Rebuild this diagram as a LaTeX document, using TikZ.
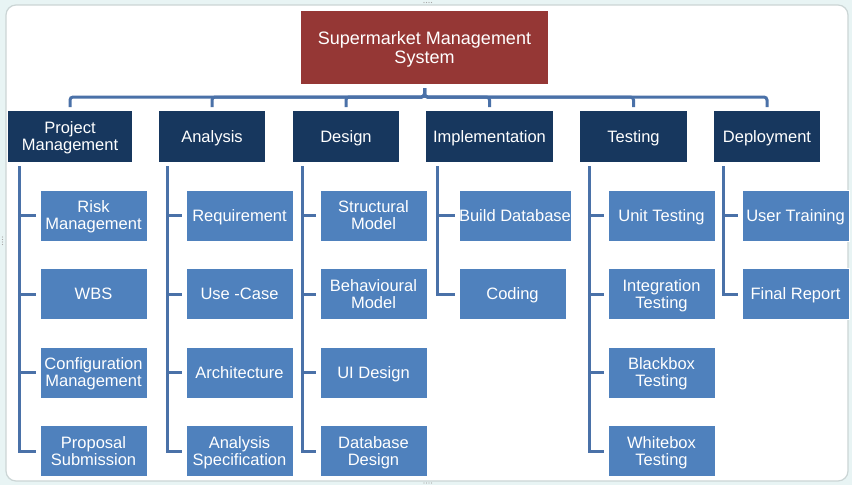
\documentclass[tikz,border=0pt]{standalone}
\usepackage{fontspec}
\setmainfont{Liberation Sans}
\usetikzlibrary{calc}

\definecolor{rootcol}{HTML}{953735}
\definecolor{phasecol}{HTML}{17375E}
\definecolor{taskcol}{HTML}{4F81BD}
\definecolor{linkcol}{HTML}{4A71A8}
\definecolor{framecol}{HTML}{CBD5D5}
\definecolor{outercol}{HTML}{E8F4F4}

\tikzset{
  root/.style={fill=rootcol, text=white, minimum width=247pt, minimum height=73pt,
    inner sep=0pt, outer sep=4pt, text depth=0pt, align=center,
    font=\fontsize{18}{18.5}\selectfont},
  phase/.style={fill=phasecol, text=white, minimum height=51pt,
    inner sep=0pt, outer sep=4pt, text depth=0pt, align=center,
    font=\fontsize{16.5}{17}\selectfont},
  task/.style={fill=taskcol, draw=white, line width=0.6pt, text=white, minimum width=107pt,
    minimum height=51pt, inner sep=0pt, outer sep=4pt, anchor=west,
    text depth=0pt, align=center, font=\fontsize{16.5}{17}\selectfont},
  link/.style={draw=linkcol, line width=3pt},
  handle/.style={fill=gray!70},
}

\begin{document}
\begin{tikzpicture}[x=1pt,y=-1pt]
\fill[outercol] (0,0) rectangle (852,485);
\filldraw[fill=white, draw=framecol, line width=1.2pt, rounded corners=10pt] (6,5) rectangle (848,481);

%handles
\foreach \i in {0,...,3} {
  \fill[handle] (424+\i*2.5,2.5) circle (0.7);
  \fill[handle] (424+\i*2.5,483) circle (0.7);
  \fill[handle] (2.5,237+\i*2.5) circle (0.7);
}

%root and phases
\node[root] (sms) at (424.5,47.5) {Supermarket Management\\System};

\node[phase, minimum width=124pt] (pm) at (70,136.5) {Project\\Management};
\node[phase, minimum width=106pt] (ana) at (212,136.5) {Analysis};
\node[phase, minimum width=106pt] (des) at (346,136.5) {Design};
\node[phase, minimum width=127pt] (imp) at (489.5,136.5) {Implementation};
\node[phase, minimum width=107pt] (tst) at (633.5,136.5) {Testing};
\node[phase, minimum width=106pt] (dep) at (767,136.5) {Deployment};

\coordinate (bus) at (0,97);
\foreach \p in {pm,ana,des,imp,tst,dep}
  \draw[link, rounded corners=3pt] (sms.south) |- (\p.north |- bus) -- (\p.north);

%project management
\node[task] (pm1) at (36,215.5) {Risk\\Management};
\node[task] (pm2) at (36,294) {WBS};
\node[task] (pm3) at (36,372.5) {Configuration\\Management};
\node[task] (pm4) at (36,451) {Proposal\\Submission};

%analysis
\node[task] (ana1) at (182,215.5) {Requirement};
\node[task] (ana2) at (182,294) {Use -Case};
\node[task] (ana3) at (182,372.5) {Architecture};
\node[task] (ana4) at (182,451) {Analysis\\Specification};

%design
\node[task] (des1) at (316,215.5) {Structural\\Model};
\node[task] (des2) at (316,294) {Behavioural\\Model};
\node[task] (des3) at (316,372.5) {UI Design};
\node[task] (des4) at (316,451) {Database\\Design};

%implementation
\node[task] (imp1) at (455,215.5) {Build Database};
\node[task] (imp2) at (455,294) {Coding};

%testing
\node[task] (tst1) at (604,215.5) {Unit Testing};
\node[task] (tst2) at (604,294) {Integration\\Testing};
\node[task] (tst3) at (604,372.5) {Blackbox\\Testing};
\node[task] (tst4) at (604,451) {Whitebox\\Testing};

%deployment
\node[task] (dep1) at (738,215.5) {User Training};
\node[task] (dep2) at (738,294) {Final Report};

%child lines
\coordinate (pmx) at ($(pm.south west)+(15,0)$);
\coordinate (anax) at ($(ana.south west)+(12,0)$);
\coordinate (desx) at ($(des.south west)+(13,0)$);
\coordinate (impx) at ($(imp.south west)+(15,0)$);
\coordinate (tstx) at ($(tst.south west)+(13,0)$);
\coordinate (depx) at ($(dep.south west)+(13,0)$);

\draw[link] (pmx) |- (pm4.west);
\draw[link] (anax) |- (ana4.west);
\draw[link] (desx) |- (des4.west);
\draw[link] (impx) |- (imp2.west);
\draw[link] (tstx) |- (tst4.west);
\draw[link] (depx) |- (dep2.west);

\foreach \c/\t in {pmx/pm1,pmx/pm2,pmx/pm3,anax/ana1,anax/ana2,anax/ana3,
    desx/des1,desx/des2,desx/des3,impx/imp1,tstx/tst1,tstx/tst2,tstx/tst3,depx/dep1}
  \draw[link] (\c |- \t.west) -- (\t.west);
\end{tikzpicture}
\end{document}
